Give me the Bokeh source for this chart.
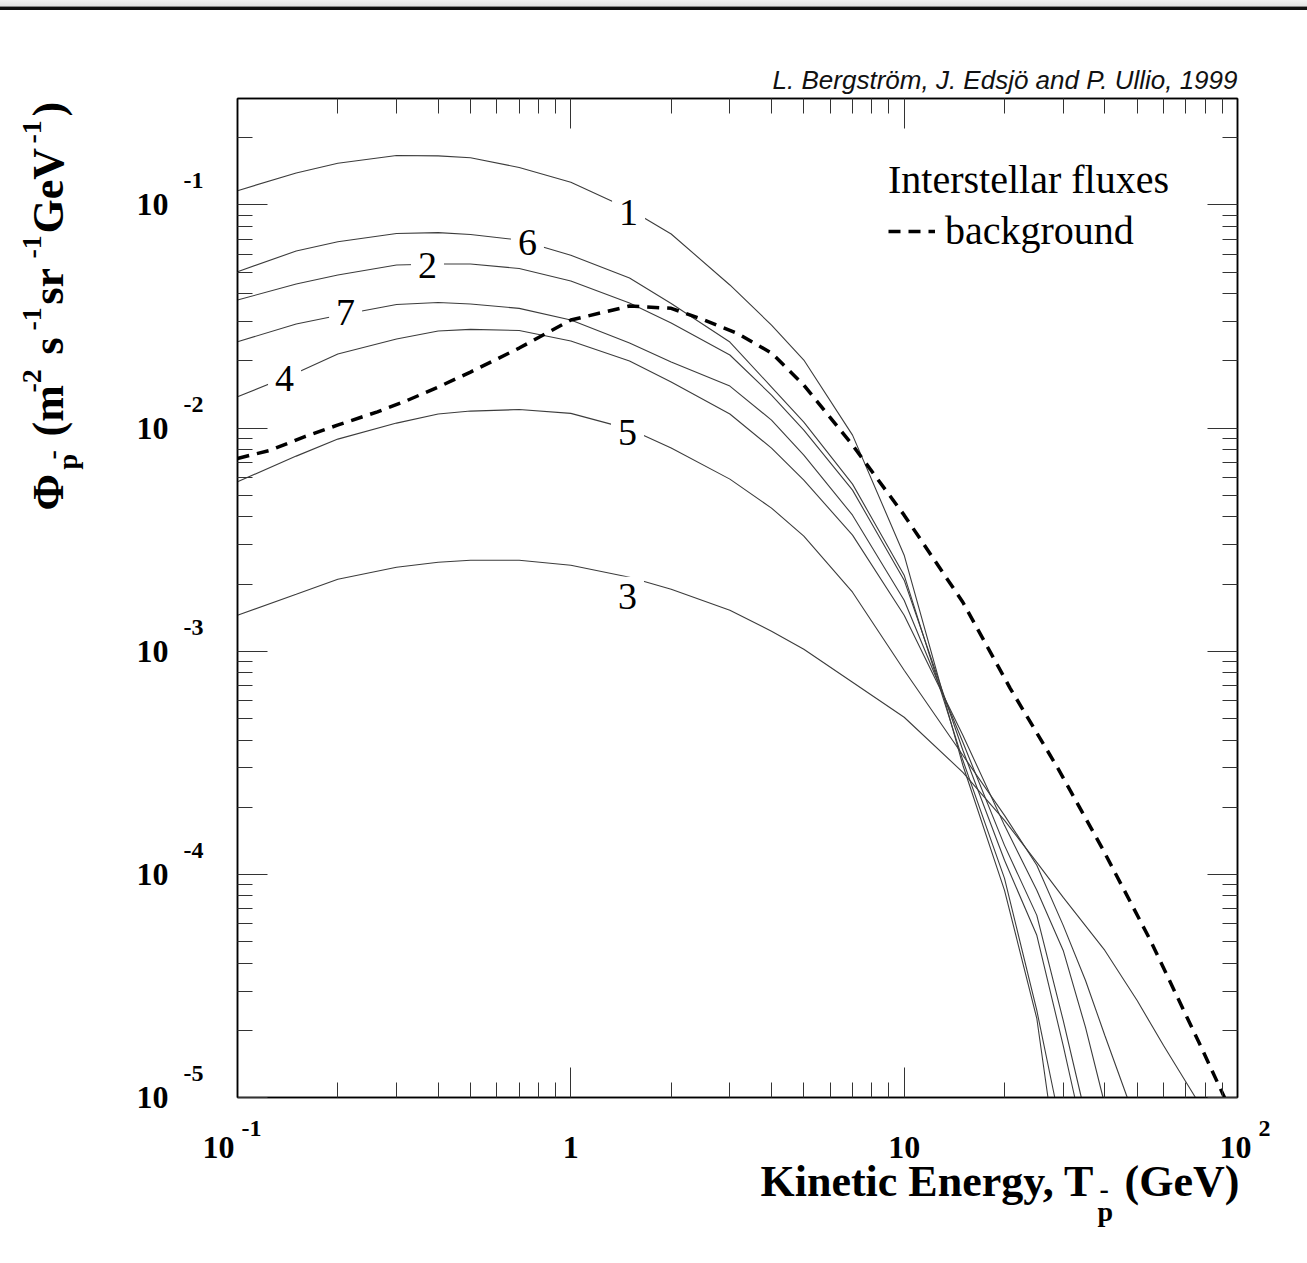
import math
from bokeh.plotting import figure
from bokeh.models import LogAxis, FixedTicker, Label, Legend, LegendItem, Range1d, Div
from bokeh.layouts import column, row
from bokeh.core.properties import value
from bokeh.embed import file_html
from bokeh.resources import INLINE

# ---------------- data ----------------
XMIN, XMAX = 0.1, 100.0
YMIN, YMAX = 1e-5, 0.3

x_c1 = [0.1, 0.15, 0.2, 0.3, 0.4, 0.5, 0.7, 1, 1.5, 2, 3, 4, 5, 7, 10, 15, 20, 25, 27.0]
y_c1 = [0.1159, 0.1392, 0.1539, 0.1667, 0.1659, 0.1628, 0.1473, 0.1263, 0.0956, 0.0741,
        0.0438, 0.02896, 0.02018, 0.00930, 0.002695, 3.083e-4, 8.48e-5, 2.26e-5, 1.0e-5]

x_c6 = [0.1, 0.15, 0.2, 0.3, 0.4, 0.5, 0.7, 1, 1.5, 2, 3, 4, 5, 7, 10, 15, 20, 25, 28.3]
y_c6 = [0.05023, 0.06218, 0.06844, 0.07452, 0.07513, 0.07375, 0.06966, 0.05954, 0.04706, 0.03615,
        0.02430, 0.01527, 0.01064, 0.005609, 0.002192, 3.245e-4, 9.60e-5, 2.455e-5, 1.0e-5]

x_c2 = [0.1, 0.15, 0.2, 0.3, 0.4, 0.5, 0.7, 1, 1.5, 2, 3, 4, 5, 7, 10, 15, 20, 25, 30, 32.5]
y_c2 = [0.03750, 0.04421, 0.04855, 0.05381, 0.05437, 0.05437, 0.05190, 0.04561, 0.03634, 0.02956,
        0.02126, 0.01406, 0.009795, 0.005272, 0.002082, 3.60e-4, 1.156e-4, 5.33e-5, 1.71e-5, 1.0e-5]

x_c7 = [0.1, 0.15, 0.2, 0.3, 0.4, 0.5, 0.7, 1, 1.5, 2, 3, 4, 5, 7, 10, 15, 20, 25, 30, 34.0]
y_c7 = [0.02438, 0.02926, 0.03195, 0.03578, 0.03653, 0.03597, 0.03441, 0.03050, 0.02405, 0.01977,
        0.01543, 0.01086, 0.007567, 0.004072, 0.001693, 3.907e-4, 1.349e-4, 6.55e-5, 2.215e-5, 1.0e-5]

x_c4 = [0.1, 0.15, 0.2, 0.3, 0.4, 0.5, 0.7, 1, 1.5, 2, 3, 4, 5, 7, 10, 15, 20, 25, 30, 35, 39.5]
y_c4 = [0.01381, 0.01765, 0.02147, 0.02506, 0.02723, 0.02771, 0.02737, 0.02455, 0.01997, 0.01608,
        0.01156, 0.008134, 0.005846, 0.003313, 0.001450, 4.201e-4, 1.658e-4, 8.48e-5, 4.56e-5,
        2.06e-5, 1.0e-5]

x_c5 = [0.1, 0.15, 0.2, 0.3, 0.4, 0.5, 0.7, 1, 1.5, 2, 3, 4, 5, 7, 10, 15, 20, 25, 30, 35, 40, 46.7]
y_c5 = [0.005744, 0.007489, 0.008927, 0.01053, 0.01156, 0.01192, 0.01211, 0.01164, 0.009897,
        0.008134, 0.005906, 0.004379, 0.003279, 0.001839, 8.22e-4, 3.417e-4, 1.839e-4, 1.098e-4,
        5.906e-5, 3.346e-5, 1.897e-5, 1.0e-5]

x_c3 = [0.1, 0.15, 0.2, 0.3, 0.4, 0.5, 0.7, 1, 1.5, 2, 3, 4, 5, 7, 10, 15, 20, 25, 30, 40, 50, 60, 74.8]
y_c3 = [0.001450, 0.001801, 0.002103, 0.002380, 0.002506, 0.002559, 0.002559, 0.002430, 0.002147,
        0.001897, 0.001527, 0.001229, 0.001021, 7.26e-4, 5.06e-4, 2.867e-4, 1.747e-4, 1.132e-4,
        7.88e-5, 4.56e-5, 2.72e-5, 1.71e-5, 1.0e-5]

x_bg = [0.1, 0.1256, 0.1585, 0.1995, 0.263, 0.316, 0.4, 0.5, 0.7, 1.0, 1.5, 2.0, 2.51, 3.16,
        4, 5, 7, 10, 15, 20.8, 28.8, 39.6, 54.8, 77.4, 91.4]
y_bg = [0.00731, 0.00796, 0.00914, 0.01031, 0.01183, 0.01312, 0.01527, 0.01783, 0.02284, 0.03050,
        0.03524, 0.03441, 0.03050, 0.02659, 0.02170, 0.01559, 0.00839, 0.004072, 0.001658,
        6.82e-4, 3.02e-4, 1.281e-4, 5.06e-5, 1.71e-5, 1.0e-5]

curve_names = ["1", "6", "2", "7", "4", "5", "3"]
curve_x = [x_c1, x_c6, x_c2, x_c7, x_c4, x_c5, x_c3]
curve_y = [y_c1, y_c6, y_c2, y_c7, y_c4, y_c5, y_c3]

# inline curve labels (positions)
label_x = [1.49, 0.741, 0.3715, 0.211, 0.1384, 1.479, 1.479]
label_y = [0.0921, 0.0682, 0.0533, 0.0328, 0.01676, 0.0096, 0.001764]

x_tick_vals = [0.1, 1, 10, 100]
x_tick_base = ["10", "1", "10", "10"]
x_tick_exp = ["-1", "", "", "2"]
y_tick_vals = [1e-1, 1e-2, 1e-3, 1e-4, 1e-5]
y_tick_exp = ["-1", "-2", "-3", "-4", "-5"]

major_x = [10.0 ** k for k in range(-2, 4)]
minor_x = [m * 10.0 ** k for k in range(-2, 3) for m in range(2, 10)]
major_y = [10.0 ** k for k in range(-6, 1)]
minor_y = [m * 10.0 ** k for k in range(-6, 0) for m in range(2, 10)]

# ---------------- page geometry ----------------
W, H = 1307, 1263
HEADER_H = 10
TOP_END = 96          # top strip: page y 10..96
MAIN_END = 1115       # main row: page y 96..1115
LEFT_W = 207          # left strip: page x 0..207
FL, FR, FT, FB = 237, 1237, 98, 1097   # plot frame in page pixels
LX0, LX1 = math.log10(XMIN), math.log10(XMAX)
LY0, LY1 = math.log10(YMIN), math.log10(YMAX)
PX_DEC_Y = (FB - FT) / (LY1 - LY0)
PX_DEC_X = (FR - FL) / (LX1 - LX0)
BASE_SHIFT = 0.37     # measured offset of the rendered alphabetic baseline (in em)


def x_at(px):
    return 10 ** (LX0 + (px - FL) / PX_DEC_X)


def y_at(py):
    return 10 ** (LY0 + (FB - py) / PX_DEC_Y)


SERIF = value("Liberation Serif")


def strip(w, h, **kw):
    fig = figure(width=w, height=h, frame_width=w, frame_height=h, title=None,
                 x_axis_location=None, y_axis_location=None, toolbar_location=None,
                 output_backend="svg", min_border=0, margin=0,
                 background_fill_color="white", border_fill_color="white", **kw)
    fig.grid.visible = False
    fig.outline_line_color = None
    return fig


# ---------------- header band ----------------
hdr = Div(text="", width=W, height=HEADER_H, margin=0,
          styles={"background": "linear-gradient(#f4f4f4 0%, #e4e4e4 60%, #777 66%, #111 75%, #111 100%)"})

# ---------------- top strip (credit line) ----------------
top = strip(W, TOP_END - HEADER_H, x_range=Range1d(0, W), y_range=Range1d(TOP_END, HEADER_H))
top.text(x=[FR], y=[89 - BASE_SHIFT * 26], text=["L. Bergström, J. Edsjö and P. Ullio, 1999"],
         text_font=value("Liberation Sans"), text_font_style="italic", text_font_size="26px",
         text_align="right", text_baseline="alphabetic", text_color="#111111")

# ---------------- main figure ----------------
p = figure(width=W - LEFT_W, height=MAIN_END - TOP_END, x_axis_type="log", y_axis_type="log",
           x_range=Range1d(XMIN, XMAX), y_range=Range1d(YMIN, YMAX), title=None,
           toolbar_location=None, output_backend="svg",
           min_border_left=FL - LEFT_W, min_border_right=W - FR,
           min_border_top=FT - TOP_END, min_border_bottom=MAIN_END - FB,
           background_fill_color="white", border_fill_color="white",
           outline_line_color="black", outline_line_width=1.5, margin=0)
p.grid.visible = False

p.add_layout(LogAxis(), "right")
p.add_layout(LogAxis(), "above")

for ax in p.xaxis:
    ax.ticker = FixedTicker(ticks=major_x, minor_ticks=minor_x)
for ax in p.yaxis:
    ax.ticker = FixedTicker(ticks=major_y, minor_ticks=minor_y)
for ax in p.xaxis + p.yaxis:
    ax.major_label_text_font_size = "1px"
    ax.major_label_text_alpha = 0
    ax.major_label_standoff = 0
    ax.major_tick_in = 30
    ax.major_tick_out = 0
    ax.minor_tick_in = 15
    ax.minor_tick_out = 0
    ax.axis_line_color = "black"
    ax.axis_line_width = 1.5
    ax.major_tick_line_color = "#333333"
    ax.minor_tick_line_color = "#333333"
    ax.major_tick_line_width = 1
    ax.minor_tick_line_width = 1

for xs, ys in zip(curve_x, curve_y):
    p.line(xs, ys, line_color="#3c3c3c", line_width=1.1)

bg = p.line(x_bg, y_bg, line_color="black", line_width=3.5, line_dash="12 8")

for t, lx, ly in zip(curve_names, label_x, label_y):
    p.add_layout(Label(x=lx, y=ly, text=t, text_font="Liberation Serif", text_font_size="38px",
                       text_align="center", text_baseline="middle", text_color="black",
                       background_fill_color="white", padding=7))

legend = Legend(items=[LegendItem(label="background", renderers=[bg])],
                title="Interstellar fluxes", location=(888 - FL, FB - 254),
                title_text_font="Liberation Serif", title_text_font_size="40px",
                title_text_font_style="normal", title_text_color="black", title_standoff=4,
                label_text_font="Liberation Serif", label_text_font_size="40px",
                label_text_color="black",
                glyph_width=47, glyph_height=20, label_standoff=10,
                padding=0, spacing=0, margin=0, border_line_color=None,
                background_fill_alpha=0)
p.add_layout(legend)

# ---------------- left strip (y tick labels + y title) ----------------
left = strip(LEFT_W, MAIN_END - TOP_END, x_range=Range1d(0, LEFT_W),
             y_range=Range1d(y_at(MAIN_END), y_at(TOP_END)), y_axis_type="log")
left.text(x=[168] * len(y_tick_vals), y=[v * 10 ** (2 / PX_DEC_Y) for v in y_tick_vals],
          text=["10"] * len(y_tick_vals), text_font=SERIF, text_font_style="bold",
          text_font_size="32px", text_align="right", text_baseline="middle", text_color="black")
left.text(x=[183] * len(y_tick_vals), y=[v * 10 ** (26 / PX_DEC_Y) for v in y_tick_vals],
          text=y_tick_exp, text_font=SERIF, text_font_style="bold",
          text_font_size="24px", text_align="left", text_baseline="middle", text_color="black")

yt_pieces = [  # text, font px, start (bottom) page y, baseline page x
    ("\u03a6", 44, 508, 64),
    ("p", 28, 467, 77),
    ("-", 28, 457, 62),
    ("(m", 44, 434, 64),
    ("-2", 28, 390, 42),
    ("s", 44, 352, 64),
    ("-1", 28, 328, 42),
    ("sr", 44, 302, 64),
    ("-1", 28, 256, 42),
    ("GeV", 44, 231, 64),
    ("-1", 28, 141, 42),
    (")", 44, 114, 64),
]
for t, s, spy, bpx in yt_pieces:
    left.text(x=[bpx - BASE_SHIFT * s], y=[y_at(spy)], text=[t], text_font=SERIF,
              text_font_style="bold", text_font_size=f"{s}px", angle=math.pi / 2,
              text_align="left", text_baseline="alphabetic", text_color="black")

# ---------------- bottom strip (x tick labels + x title) ----------------
bottom = strip(W, H - MAIN_END, x_range=Range1d(x_at(0), x_at(W)), x_axis_type="log",
               y_range=Range1d(H, MAIN_END))
x_base_off = [-19, 0, 0, -2]
x_exp_off = [4, 0, 0, 21]
bottom.text(x=x_tick_vals, y=[1147] * len(x_tick_vals), x_offset=x_base_off, text=x_tick_base,
            text_font=SERIF, text_font_style="bold", text_font_size="32px",
            text_align="center", text_baseline="middle", text_color="black")
exp_idx = [i for i, e in enumerate(x_tick_exp) if e]
bottom.text(x=[x_tick_vals[i] for i in exp_idx], y=[1128] * len(exp_idx),
            x_offset=[x_exp_off[i] for i in exp_idx], text=[x_tick_exp[i] for i in exp_idx],
            text_font=SERIF, text_font_style="bold", text_font_size="24px",
            text_align="left", text_baseline="middle", text_color="black")

xt_pieces = [  # text, font px, left page x, baseline page y
    ("Kinetic Energy, T", 44, 760, 1197),
    ("p", 28, 1097, 1221),
    ("-", 28, 1099, 1199),
    ("(GeV)", 44, 1124, 1197),
]
for t, s, lpx, bpy in xt_pieces:
    bottom.text(x=[x_at(lpx)], y=[bpy - BASE_SHIFT * s], text=[t], text_font=SERIF,
                text_font_style="bold", text_font_size=f"{s}px", text_align="left",
                text_baseline="alphabetic", text_color="black")

layout = column(hdr, top, row(left, p, spacing=0), bottom, spacing=0)
open("out.html", "w").write(file_html(layout, INLINE))
